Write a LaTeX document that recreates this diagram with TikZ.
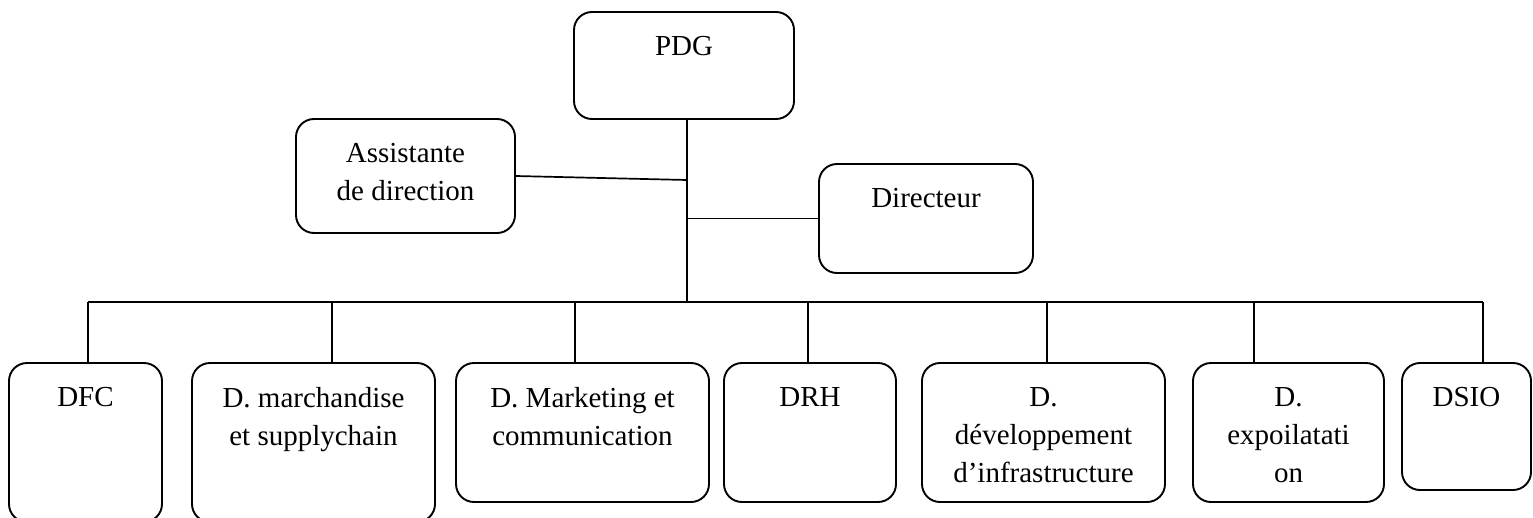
\documentclass[tikz,border=0pt]{standalone}
\usepackage{fontspec}
\setmainfont{Liberation Serif}
\usepackage{tikz}

\tikzset{
  orgbox/.style={draw, line width=1.9pt, rounded corners=18pt, inner sep=0pt},
  orgtext/.style={anchor=north, inner sep=0pt, align=center, yshift=-25pt, font=\fontsize{29}{38}\selectfont},
  link/.style={line width=1.7pt}
}

\begin{document}
\begin{tikzpicture}[x=1pt, y=-1pt]
        \useasboundingbox (0,0) rectangle (1533,517);
        % direction
        \node[orgbox, minimum width=220pt, minimum height=107pt, label={[orgtext]north:PDG}] (pdg) at (684,65.5) {};
        \node[orgbox, minimum width=219pt, minimum height=114pt, label={[orgtext]north:Assistante\\de direction}] (asst) at (405.5,176) {};
        \node[orgbox, minimum width=214pt, minimum height=109pt, label={[orgtext]north:Directeur}] (dir) at (926,218.5) {};
        % departements
        \node[orgbox, minimum width=153pt, minimum height=159pt, label={[orgtext]north:DFC}] (dfc) at (85.5,442.5) {};
        \node[orgbox, minimum width=243pt, minimum height=159pt, label={[orgtext]north:D. marchandise\\et supplychain}] (march) at (313.5,442.5) {};
        \node[orgbox, minimum width=253pt, minimum height=139pt, label={[orgtext]north:D. Marketing et\\communication}] (mkt) at (582.5,432.5) {};
        \node[orgbox, minimum width=172pt, minimum height=139pt, label={[orgtext]north:DRH}] (drh) at (810,432.5) {};
        \node[orgbox, minimum width=243pt, minimum height=139pt, label={[orgtext]north:D.\\développement\\d’infrastructure}] (dev) at (1043.5,432.5) {};
        \node[orgbox, minimum width=191pt, minimum height=139pt, label={[orgtext]north:D.\\expoilatati\\on}] (expl) at (1288.5,432.5) {};
        \node[orgbox, minimum width=129pt, minimum height=127pt, label={[orgtext]north:DSIO}] (dsio) at (1466.5,426.5) {};
        % liaisons
        \coordinate (trunk) at (687,302);
        \coordinate (ajoint) at (687,180);
        \coordinate (busL) at (88,302);
        \coordinate (busR) at (1483,302);
        \draw[link] (pdg.south -| trunk) -- (trunk);
        \draw[link] (asst.east) -- (ajoint);
        \draw[link] (dir.west -| trunk) -- (dir.west);
        \draw[link] (busL) -- (busR);
        \foreach \x/\n in {88/dfc, 332/march, 575/mkt, 808/drh, 1047/dev, 1254/expl, 1483/dsio} {
            \coordinate (d\n) at (\x,302);
            \draw[link] (d\n) -- (d\n |- \n.north);
        }
\end{tikzpicture}
\end{document}
